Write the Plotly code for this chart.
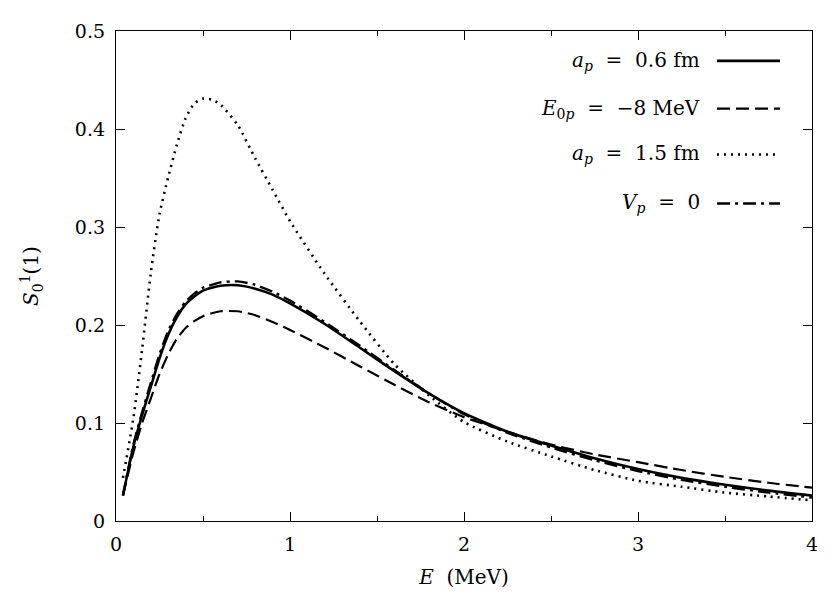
import plotly.graph_objects as go

energy = [0.04, 0.1, 0.15, 0.2, 0.25, 0.3, 0.35, 0.4, 0.45, 0.5, 0.55, 0.6, 0.7, 0.8,
          0.9, 1.0, 1.2, 1.4, 1.6, 1.8, 2.0, 2.25, 2.5, 2.75, 3.0, 3.25, 3.5, 3.75, 4.0]

s_ap06 = [0.026, 0.076, 0.108, 0.137, 0.166, 0.190, 0.208, 0.221, 0.229, 0.235, 0.238,
          0.240, 0.2405, 0.237, 0.231, 0.222, 0.201, 0.177, 0.153, 0.130, 0.110, 0.091,
          0.077, 0.064, 0.053, 0.044, 0.037, 0.031, 0.026]
s_e0p = [0.026, 0.070, 0.100, 0.125, 0.150, 0.170, 0.186, 0.197, 0.204, 0.209, 0.212,
         0.214, 0.214, 0.210, 0.203, 0.195, 0.177, 0.158, 0.139, 0.121, 0.106, 0.091,
         0.078, 0.068, 0.060, 0.052, 0.045, 0.039, 0.034]
s_ap15 = [0.044, 0.105, 0.175, 0.253, 0.313, 0.351, 0.384, 0.411, 0.426, 0.431, 0.430,
          0.425, 0.404, 0.370, 0.338, 0.306, 0.252, 0.204, 0.160, 0.128, 0.101, 0.081,
          0.066, 0.052, 0.041, 0.035, 0.029, 0.025, 0.021]
s_vp0 = [0.026, 0.078, 0.111, 0.141, 0.170, 0.194, 0.211, 0.224, 0.232, 0.238, 0.241,
         0.2435, 0.2445, 0.241, 0.234, 0.225, 0.203, 0.179, 0.154, 0.130, 0.109, 0.090,
         0.075, 0.062, 0.051, 0.042, 0.035, 0.029, 0.024]

labels = ["<i>a<sub>p</sub></i>\u00a0\u00a0=\u00a0\u00a00.6 fm",
          "<i>E</i><sub>0<i>p</i></sub>\u00a0\u00a0=\u00a0\u00a0−8 MeV",
          "<i>a<sub>p</sub></i>\u00a0\u00a0=\u00a0\u00a01.5 fm",
          "<i>V<sub>p</sub></i>\u00a0\u00a0=\u00a0\u00a00"]
series = [s_ap06, s_e0p, s_ap15, s_vp0]
dashes = ["solid", "13px,6px", "2px,5px", "13px,5px,3px,5px"]
widths = [2.6, 2.2, 2.6, 2.4]

x_ticks = [0, 1, 2, 3, 4]
y_ticks = [0, 0.1, 0.2, 0.3, 0.4, 0.5]
y_ticktext = ["0", "0.1", "0.2", "0.3", "0.4", "0.5"]

FONT = "'DejaVu Serif', serif"

fig = go.Figure()
for lab, ys, d, w in zip(labels, series, dashes, widths):
    fig.add_trace(go.Scatter(x=energy, y=ys, mode="lines", name=lab,
                             line=dict(color="black", dash=d, width=w, shape="spline", smoothing=0.6),
                             showlegend=False))

# legend built as right-aligned text with a line sample on its right
legend_y = [0.939, 0.8415, 0.748, 0.648]
for lab, d, w, ly in zip(labels, dashes, widths, legend_y):
    fig.add_annotation(xref="paper", yref="paper", x=0.842, y=ly, text=lab,
                       showarrow=False, xanchor="right", yanchor="middle",
                       font=dict(family=FONT, size=20, color="black"))
    fig.add_shape(type="line", xref="paper", yref="paper", x0=0.8635, x1=0.954,
                  y0=ly, y1=ly, line=dict(color="black", dash=d, width=w))

fig.update_layout(
    width=822, height=591,
    margin=dict(l=108, r=18, t=21, b=78),
    plot_bgcolor="white", paper_bgcolor="white",
    font=dict(family=FONT, size=19, color="black"),
    xaxis=dict(range=[0, 4], tickvals=x_ticks, ticks="inside", ticklen=9,
               tickcolor="black", showline=True, linecolor="black", linewidth=1.3,
               mirror="ticks", showgrid=False, zeroline=False,
               minor=dict(ticks="inside", dtick=0.5, ticklen=5, tickcolor="black"),
               title=dict(text="<i>E</i>\u00a0\u00a0(MeV)", font=dict(size=20), standoff=16),
               tickfont=dict(size=19), ticklabelstandoff=6),
    yaxis=dict(range=[0, 0.5], tickvals=y_ticks, ticktext=y_ticktext, ticks="inside",
               ticklen=9, tickcolor="black", showline=True, linecolor="black",
               linewidth=1.3, mirror="ticks", showgrid=False, zeroline=False,
               title=dict(text="<i>S</i><sub>0</sub><sup>1</sup>(1)", font=dict(size=20), standoff=30),
               tickfont=dict(size=19), ticklabelstandoff=6),
)

fig.write_html("out.html")
